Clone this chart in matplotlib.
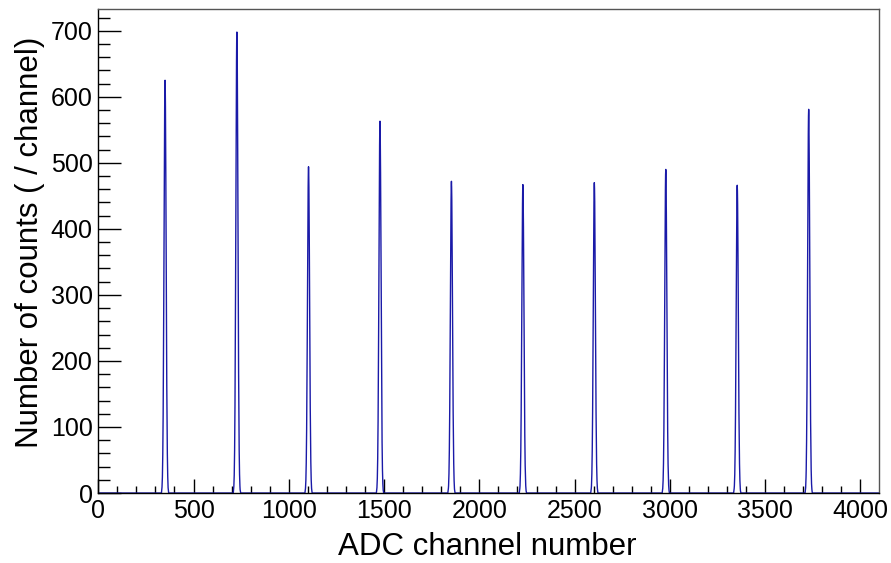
import matplotlib
matplotlib.use("Agg")
import matplotlib.pyplot as plt
from matplotlib.ticker import MultipleLocator
import numpy as np

plt.rcParams['font.family'] = ['Liberation Sans', 'DejaVu Sans']

# ADC spectrum: 4096 channels, pulser peaks
n_channels = 4096
peak_centres = [350, 727, 1103, 1478, 1853, 2228, 2603, 2978, 3353, 3728]

# counts per channel from centre-18 to centre+18
peak_counts = [
    [3, 5, 9, 15, 24, 38, 58, 86, 119, 165, 216, 279, 344, 414, 479, 540, 584, 616, 625,
     614, 586, 538, 481, 412, 346, 277, 218, 163, 121, 84, 59, 37, 25, 15, 8, 5, 2],
    [3, 6, 10, 17, 27, 43, 64, 94, 133, 183, 242, 310, 385, 462, 536, 602, 653, 687, 698,
     686, 654, 601, 537, 461, 386, 309, 243, 182, 135, 93, 65, 42, 28, 16, 10, 5, 3],
    [2, 4, 7, 12, 19, 30, 46, 67, 95, 130, 172, 220, 272, 327, 379, 426, 462, 486, 494,
     485, 463, 425, 380, 326, 273, 219, 173, 129, 96, 66, 47, 29, 20, 11, 7, 4, 2],
    [3, 5, 8, 14, 22, 34, 52, 76, 108, 148, 195, 250, 310, 372, 432, 485, 527, 554, 563,
     555, 526, 486, 431, 373, 309, 251, 194, 149, 107, 77, 51, 35, 21, 14, 8, 4, 3],
    [2, 4, 7, 11, 19, 29, 44, 64, 90, 124, 164, 210, 260, 312, 362, 407, 442, 464, 472,
     463, 443, 406, 363, 311, 261, 209, 165, 123, 91, 63, 45, 28, 19, 12, 6, 4, 2],
    [2, 4, 7, 11, 18, 29, 43, 63, 89, 122, 162, 208, 258, 309, 358, 402, 437, 459, 467,
     460, 436, 403, 357, 310, 257, 209, 161, 123, 88, 64, 42, 30, 17, 11, 7, 3, 2],
    [2, 4, 7, 11, 18, 29, 43, 64, 90, 123, 163, 209, 259, 311, 361, 405, 440, 462, 470,
     461, 441, 404, 362, 310, 260, 208, 164, 122, 91, 63, 44, 28, 19, 11, 7, 4, 2],
    [2, 4, 7, 12, 19, 30, 45, 66, 94, 129, 170, 218, 270, 324, 376, 422, 459, 482, 490,
     483, 458, 423, 375, 325, 269, 219, 169, 130, 93, 67, 44, 31, 18, 12, 7, 4, 2],
    [2, 4, 7, 11, 18, 28, 43, 63, 89, 122, 162, 207, 257, 308, 358, 402, 436, 458, 466,
     457, 437, 401, 359, 307, 258, 206, 163, 121, 90, 62, 44, 27, 19, 11, 7, 3, 2],
    [3, 5, 8, 14, 23, 35, 54, 79, 111, 152, 202, 258, 320, 384, 446, 501, 544, 571, 581,
     572, 543, 502, 445, 385, 319, 259, 201, 153, 110, 80, 53, 36, 22, 14, 8, 5, 2],
]

counts = np.zeros(n_channels)
for c, vals in zip(peak_centres, peak_counts):
    half = len(vals) // 2
    counts[c - half:c + half + 1] = vals
channels = np.arange(n_channels) + 0.5

fig = plt.figure(figsize=(8.91, 5.63), dpi=100)
ax = fig.add_axes([0.1103, 0.1243, 0.8759, 0.8597])

ax.plot(channels, counts, color='#1a1aa8', lw=1.0)

ax.set_xlim(0, n_channels)
ax.set_ylim(0, 1.05 * counts.max())

ax.xaxis.set_major_locator(MultipleLocator(500))
ax.xaxis.set_minor_locator(MultipleLocator(100))
ax.yaxis.set_major_locator(MultipleLocator(100))
ax.yaxis.set_minor_locator(MultipleLocator(20))

ax.tick_params(axis='both', which='both', direction='in', top=False, right=False,
               labelsize=18, width=1.0, colors='black')
ax.tick_params(axis='y', which='major', length=16.5, pad=4)
ax.tick_params(axis='y', which='minor', length=8.5)
ax.tick_params(axis='x', which='major', length=10, pad=4)
ax.tick_params(axis='x', which='minor', length=5)

for side in ('top', 'right'):
    ax.spines[side].set_color('#555555')
for side in ax.spines:
    ax.spines[side].set_linewidth(1.0)

fig.text(487 / 891, 1 - 547 / 563, 'ADC channel number', ha='center', va='center', fontsize=22.5)
fig.text(30 / 891, 1 - 242 / 563, 'Number of counts ( / channel)', ha='center', va='center',
         rotation=90, fontsize=22.5)

fig.savefig('out.png', dpi=100)
